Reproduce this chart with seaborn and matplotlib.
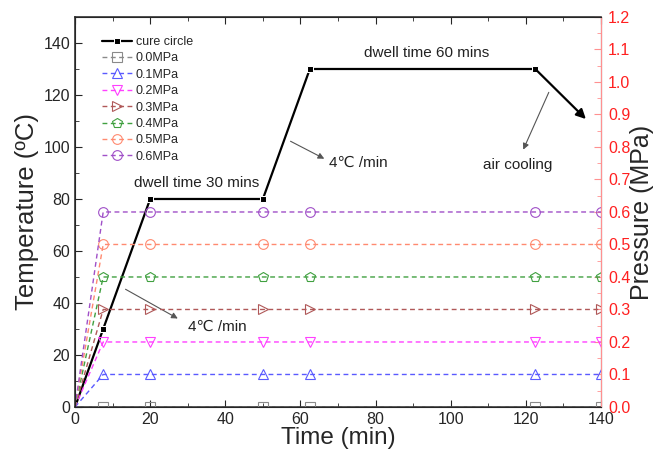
import numpy as np
import pandas as pd
import seaborn as sns
import matplotlib.pyplot as plt
from matplotlib.ticker import MultipleLocator

# cure cycle (temperature, left axis)
cure_time = [0, 7.5, 20, 50, 62.5, 122.5]
cure_temp = [0, 30, 80, 80, 130, 130]
cool_end = (136.5, 110)

# pressure series (right axis)
p_time = [0, 7.5, 20, 50, 62.5, 122.5, 140]
p_levels = [0.0, 0.1, 0.2, 0.3, 0.4, 0.5, 0.6]
p_labels = ['0.0MPa', '0.1MPa', '0.2MPa', '0.3MPa', '0.4MPa', '0.5MPa', '0.6MPa']
p_colors = ['#8a8a8a', '#5a5aff', '#ff40ff', '#b05858', '#40a040', '#ff8a70', '#a050c8']
p_markers = ['s', '^', 'v', '>', 'p', 'o', 'o']

sns.set_style('ticks')
plt.rcParams['font.family'] = ['Liberation Sans', 'DejaVu Sans']

fig = plt.figure(figsize=(6.54, 4.58), dpi=100)
ax = fig.add_axes([0.1147, 0.1114, 0.8043, 0.8515])
ax2 = ax.twinx()

cure_df = pd.DataFrame({'time': cure_time, 'temp': cure_temp})
sns.lineplot(data=cure_df, x='time', y='temp', ax=ax, color='black', lw=1.6,
             marker='s', markersize=4, markevery=list(range(1, len(cure_time))),
             label='cure circle', legend=False)

for lvl, lab, col, mk in zip(p_levels, p_labels, p_colors, p_markers):
    df = pd.DataFrame({'time': p_time, 'p': [0.0] + [lvl] * (len(p_time) - 1)})
    sns.lineplot(data=df, x='time', y='p', ax=ax2, color=col, lw=1.0,
                 linestyle=(0, (3.5, 2.5)), marker=mk, markersize=7,
                 markerfacecolor='none', markeredgecolor=col, markeredgewidth=0.8,
                 markevery=list(range(1, len(p_time))), label=lab, legend=False,
                 clip_on=True)

ax.set_xlim(0, 140)
ax.set_ylim(0, 150)
ax2.set_ylim(0, 1.2)
ax.xaxis.set_major_locator(MultipleLocator(20))
ax.xaxis.set_minor_locator(MultipleLocator(10))
ax.yaxis.set_major_locator(MultipleLocator(20))
ax.yaxis.set_minor_locator(MultipleLocator(10))
ax2.yaxis.set_major_locator(MultipleLocator(0.1))
ax2.yaxis.set_minor_locator(MultipleLocator(0.05))
ax2.yaxis.set_major_formatter(plt.FormatStrFormatter('%.1f'))

ax.tick_params(which='both', direction='in', top=True, right=False, labelsize=11.5)
ax.tick_params(which='major', length=5)
ax.tick_params(which='minor', length=3)
ax2.tick_params(which='both', direction='in', colors='#ff9090', labelcolor='#ff2020',
                labelsize=11.5, pad=5)
ax2.tick_params(which='major', length=5)
ax2.tick_params(which='minor', length=3)
ax2.spines['right'].set_color('#ff9090')
for s in ['top', 'left', 'bottom']:
    ax.spines[s].set_linewidth(1.2)
    ax.spines[s].set_color('#333333')

ax.set_xlabel('Time (min)', fontsize=17.5, labelpad=0)
ax.set_ylabel('Temperature (ºC)', fontsize=18.5, labelpad=3)
ax2.set_ylabel('Pressure (MPa)', fontsize=18, labelpad=0)

# annotations
txt = dict(fontsize=11, color='#222222')
ax.text(32.5, 86, 'dwell time 30 mins', ha='center', va='center', **txt)
ax.text(93.7, 136, 'dwell time 60 mins', ha='center', va='center', **txt)
thin = dict(arrowstyle='-|>', color='#555555', lw=0.8, mutation_scale=9)
ax.annotate('', xy=(28, 33.5), xytext=(12.8, 45.8), arrowprops=thin)
ax.text(30, 30.8, '4℃ /min', ha='left', va='center', **txt)
ax.annotate('', xy=(67, 95), xytext=(56.7, 102.7), arrowprops=thin)
ax.text(67.5, 94, '4℃ /min', ha='left', va='center', **txt)
ax.annotate('', xy=(119, 98), xytext=(126.4, 122), arrowprops=thin)
ax.text(117.7, 93, 'air cooling', ha='center', va='center', **txt)
ax.annotate('', xy=cool_end, xytext=(cure_time[-1], cure_temp[-1]),
            arrowprops=dict(arrowstyle='-|>', color='black', lw=1.6, mutation_scale=14))

h1, l1 = ax.get_legend_handles_labels()
h2, l2 = ax2.get_legend_handles_labels()
ax2.legend(h1 + h2, l1 + l2, loc='upper left', bbox_to_anchor=(0.03, 0.98),
           frameon=False, fontsize=9, handlelength=2.4, labelspacing=0.35,
           handletextpad=0.3, numpoints=1)

fig.savefig('out.png', dpi=100)
